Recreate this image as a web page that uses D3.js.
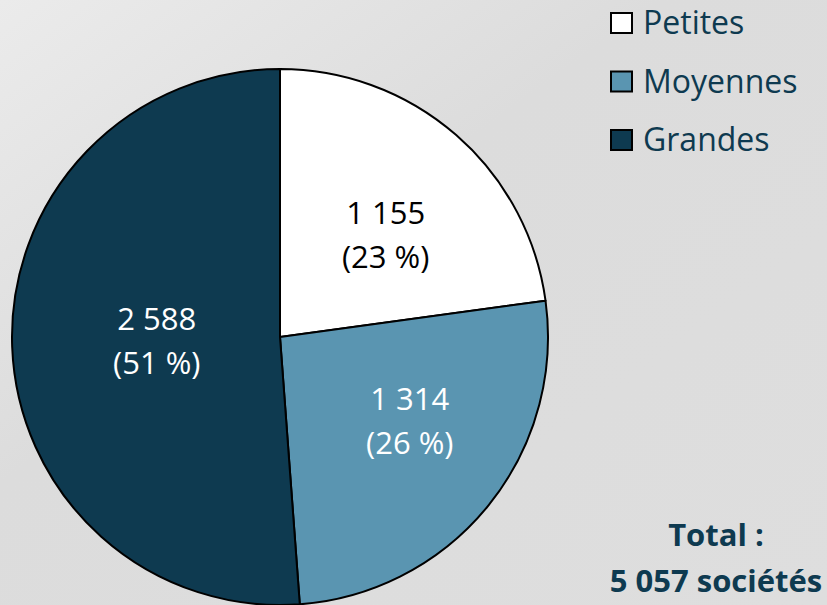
<!DOCTYPE html>
<html>
<head>
<meta charset="utf-8">
<script src="https://cdn.jsdelivr.net/npm/d3@7"></script>
<style>
  html, body { margin: 0; padding: 0; }
  body { width: 827px; height: 605px; overflow: hidden; }
  text { font-family: "Open Sans", "Liberation Sans", sans-serif; }
</style>
</head>
<body>
<svg id="chart" width="827" height="605"></svg>
<script>
// data
var categories = ['Petites', 'Moyennes', 'Grandes'];
var values = [1155, 1314, 2588];
var percents = ['23 %', '26 %', '51 %'];
var totalLabel = ['Total :', '5 057 sociétés'];

var colors = ['#ffffff', '#5a95b1', '#0e3a50'];
var labelColors = ['#000000', '#ffffff', '#ffffff'];
// label placement: share of the radius, then a small nudge (Excel best fit)
var labelRadius = [0.56, 0.57, 0.46];
var labelNudge = [[7, 6], [11, -17], [0, -6]];

var svg = d3.select('#chart');

var defs = svg.append('defs');
var grad = defs.append('linearGradient')
  .attr('id', 'bg')
  .attr('x1', '0%').attr('y1', '0%')
  .attr('x2', '100%').attr('y2', '100%');
grad.append('stop').attr('offset', '0%').attr('stop-color', '#ebebeb');
grad.append('stop').attr('offset', '40%').attr('stop-color', '#dcdcdc');
grad.append('stop').attr('offset', '100%').attr('stop-color', '#dedede');

svg.append('rect')
  .attr('width', 827).attr('height', 605)
  .attr('fill', 'url(#bg)');

var cx = 280, cy = 337, r = 268;

var pie = d3.pie().sort(null).value(function(d) { return d; });
var arcs = pie(values);
var arc = d3.arc().innerRadius(0).outerRadius(r);

var g = svg.append('g').attr('transform', 'translate(' + cx + ',' + cy + ')');

g.selectAll('path')
  .data(arcs)
  .enter().append('path')
  .attr('d', arc)
  .attr('fill', function(d, i) { return colors[i]; })
  .attr('stroke', '#000')
  .attr('stroke-width', 2)
  .attr('stroke-linejoin', 'round');

var fmt = d3.formatLocale({ decimal: ',', thousands: ' ', grouping: [3], currency: ['', ''] }).format(',d');

var labels = g.selectAll('.lbl')
  .data(arcs)
  .enter().append('text')
  .attr('class', 'lbl')
  .attr('transform', function(d, i) {
    var rr = r * labelRadius[i];
    var c = d3.arc().innerRadius(rr).outerRadius(rr).centroid(d);
    return 'translate(' + (c[0] + labelNudge[i][0]) + ',' + (c[1] + labelNudge[i][1]) + ')';
  })
  .attr('text-anchor', 'middle')
  .attr('font-size', 31)
  .attr('fill', function(d, i) { return labelColors[i]; });

labels.append('tspan')
  .attr('x', 0).attr('y', -6)
  .text(function(d) { return fmt(d.value); });
labels.append('tspan')
  .attr('x', 0).attr('y', 38)
  .text(function(d, i) { return '(' + percents[i] + ')'; });

// legend
var legend = svg.append('g').attr('transform', 'translate(611,0)');
var item = legend.selectAll('g')
  .data(categories)
  .enter().append('g')
  .attr('transform', function(d, i) { return 'translate(0,' + (34 + i * 58.5) + ')'; });

item.append('rect')
  .attr('x', 0).attr('y', -21)
  .attr('width', 21).attr('height', 20)
  .attr('fill', function(d, i) { return colors[i]; })
  .attr('stroke', '#000')
  .attr('stroke-width', 2);

item.append('text')
  .attr('x', 32).attr('y', 0)
  .attr('font-size', 32)
  .attr('fill', '#0e3a50')
  .text(function(d) { return d; });

// total
var total = svg.append('text')
  .attr('text-anchor', 'middle')
  .attr('font-size', 31)
  .attr('font-weight', 'bold')
  .attr('fill', '#0e3a50');
total.selectAll('tspan')
  .data(totalLabel)
  .enter().append('tspan')
  .attr('x', 716)
  .attr('y', function(d, i) { return 546 + i * 46; })
  .text(function(d) { return d; });
</script>
</body>
</html>
